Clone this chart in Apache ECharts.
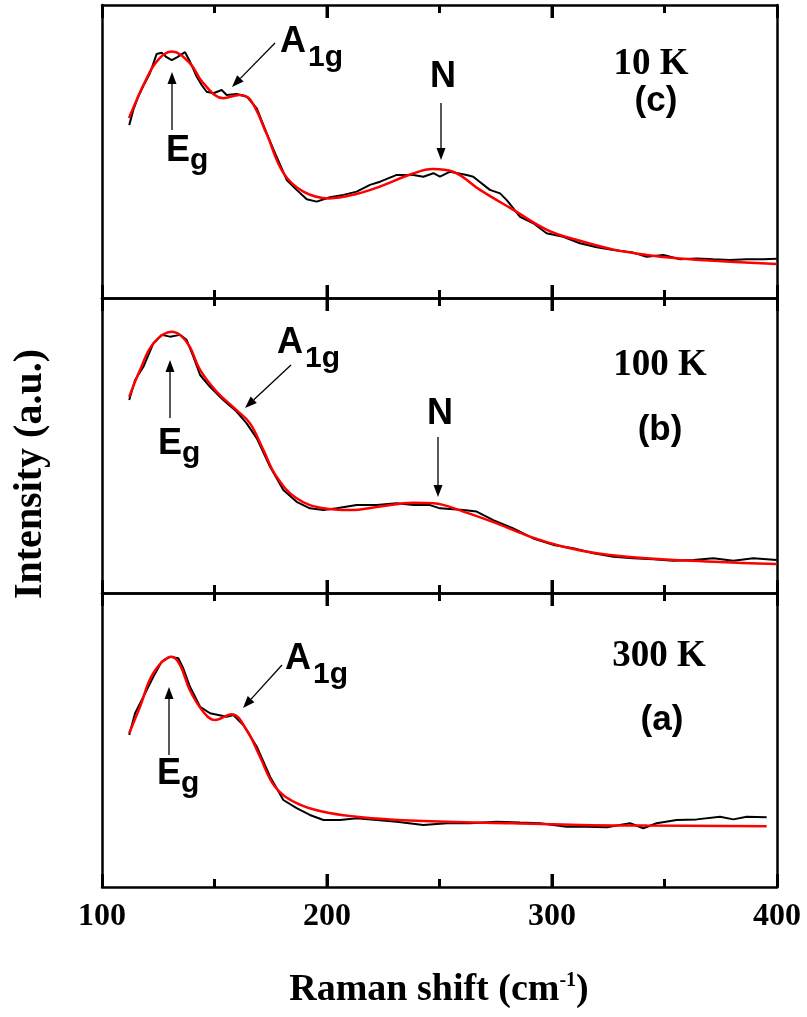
<!DOCTYPE html>
<html lang="en">
<head>
    <meta charset="UTF-8">
    <title>Raman spectra</title>
    <script src="https://cdn.jsdelivr.net/npm/echarts@6/dist/echarts.min.js"></script>
    <style>
        html, body { margin: 0; padding: 0; background: #fff; }
        #main { width: 807px; height: 1017px; background: #fff; }
    </style>
</head>
<body>
<div id="main"></div>
<script>
    // x tick labels and tick positions
    var xTicks = [100, 200, 300, 400];
    var innerTicks = [150, 200, 250, 300, 350];

    // panel (c) 10 K : [Raman shift, intensity a.u.]
    var cExp = [[112.1,59.0],[113.9,64.2],[116.1,68.7],[118.4,72.4],[121.3,76.7],[124.3,83.3],[126.5,83.7],[128.7,82.2],[131,81.2],[133.5,82.2],[136.9,83.9],[139.1,80.7],[142.1,75.5],[144.3,72.7],[146.5,70.4],[149.5,69.9],[153.2,71.0],[155.4,69.3],[159.9,69.6],[164.3,68.7],[168.8,64.7],[173.2,56.2],[177.6,48.2],[182.1,40.3],[186.5,36.9],[191,33.7],[195.4,32.9],[201.3,34.4],[207.3,35.2],[213.2,36.3],[219.1,38.6],[223.6,39.7],[231,42.0],[238.4,42.0],[242.8,41.4],[247.3,42.6],[250.2,41.4],[254.7,43.1],[262.1,42.0],[265,41.4],[272.4,36.9],[276.9,35.7],[279.9,33.4],[285.8,27.7],[291.7,25.5],[297.6,22.1],[305,20.9],[312.4,18.7],[319.9,17.3],[327.3,16.4],[336.1,15.5],[342,14.1],[349.5,14.7],[356.9,13.2],[364.3,13.5],[371.7,13.2],[379.1,13.0],[386.5,13.2],[393.9,13.2],[399.9,13.4]];
    var cFit = [[112,61.4],[115.4,67.6],[119.1,73.8],[124.3,80.7],[131,84.1],[139,80.2],[145,73.3],[154,68.2],[161,69.3],[166,67.6],[173,56.3],[180.6,42.7],[189.5,36.3],[201,34.0],[213,35.5],[224,38.2],[238,42.4],[247,44.0],[256,43.1],[268,36.9],[283,30.0],[298,23.2],[312,19.6],[327,16.6],[342,14.7],[357,13.5],[372,12.7],[400,11.6]];

    // panel (b) 100 K
    var bExp = [[112.1,65.4],[114.7,72.2],[118.4,76.7],[122.8,84.6],[126.5,87.5],[130.2,86.9],[134.7,87.5],[137.6,85.8],[140.6,80.1],[143.6,73.9],[148,69.9],[153.9,65.4],[159.8,61.5],[164.3,57.5],[168.8,52.4],[174.7,42.8],[180.6,34.9],[186.5,30.9],[192.4,28.7],[198.4,28.1],[204.3,28.7],[213.2,29.8],[222.1,29.8],[231,30.4],[238.4,29.8],[245.8,29.8],[250.2,28.7],[260.6,28.1],[266.5,27.6],[273.9,24.7],[282.8,21.9],[291.7,18.5],[300.6,16.3],[309.5,15.2],[318.4,13.5],[327.3,12.3],[336.1,11.8],[345,11.4],[353.9,10.9],[362.8,11.2],[371.7,11.8],[380.6,10.9],[389.5,11.8],[399.9,11.2]];
    var bFit = [[112.1,66.5],[116.9,75.6],[122.8,84.6],[131,88.6],[134.7,87.5],[139,83.5],[143.6,75.6],[151,68.2],[159.8,62.0],[165.8,57.5],[171.7,48.5],[177.6,39.4],[186.5,32.1],[198.4,28.7],[210.2,28.1],[223.6,29.3],[238.4,30.6],[247.3,30.4],[260.6,27.6],[275.4,23.6],[290.2,19.1],[305,15.7],[319.9,13.5],[342,11.8],[371.7,10.6],[399.8,9.8]];

    // panel (a) 300 K
    var aExp = [[112.1,51.7],[114.7,59.1],[118.4,64.7],[122.8,71.5],[126.5,76.6],[130.2,78.3],[133.9,77.8],[136.1,74.4],[139.1,68.1],[143.6,61.3],[148,59.1],[151.7,58.5],[155.4,57.9],[158.4,58.5],[162.8,55.1],[168.8,47.7],[174.7,37.5],[180.6,29.6],[186.5,26.8],[192.4,24.5],[198.4,22.8],[205.8,22.8],[213.2,23.4],[222.1,22.8],[231,22.2],[242.8,21.1],[253.2,21.7],[263.6,21.7],[275.4,22.2],[285.8,21.9],[294.7,21.7],[306.5,20.5],[315.4,20.5],[324.3,20.3],[334.7,21.7],[340.6,20.0],[346.5,21.7],[355.4,22.8],[364.3,23.0],[374.7,23.9],[380.6,23.0],[386.5,23.9],[395.4,23.7]];
    var aFit = [[112.1,52.3],[116.9,61.3],[122.8,72.7],[131,78.3],[134.7,75.5],[139,67.0],[145,59.6],[150.2,56.8],[157.6,58.8],[164.3,53.4],[170.2,44.3],[176.9,34.1],[186.5,28.5],[198.4,25.6],[213.2,23.9],[228,23.0],[253.2,22.2],[282.8,21.7],[312.4,21.1],[342,20.9],[395.4,20.7]];

    var panelExp = [cExp, bExp, aExp];
    var panelFit = [cFit, bFit, aFit];
    var panelTemp = ['10 K', '100 K', '300 K'];
    var panelTag = ['(c)', '(b)', '(a)'];

    var serif = 'Liberation Serif';
    var sans = 'Liberation Sans';
    var tops = [5, 298, 593];
    var heights = [293, 295, 294];

    var grids = [], xAxes = [], yAxes = [], series = [];
    for (let i = 0; i < 3; i++) {
        grids.push({ left: 102, width: 675, top: tops[i], height: heights[i], outerBoundsMode: 'none', containLabel: false });
        ['bottom', 'top'].forEach(function (pos) {
            xAxes.push({
                gridIndex: i, position: pos, type: 'value',
                min: 100, max: 400, interval: 100,
                axisLine: { show: true, onZero: false, lineStyle: { color: '#000', width: 2.5 } },
                axisTick: { show: true, inside: true, length: 13, lineStyle: { color: '#000', width: 3 } },
                minorTick: { show: true, splitNumber: 2, length: 8, lineStyle: { color: '#000', width: 3 } },
                splitLine: { show: false },
                axisLabel: {
                    show: (i === 2 && pos === 'bottom'),
                    margin: 14,
                    fontFamily: serif, fontWeight: 'bold', fontSize: 32, color: '#000',
                    formatter: function (v) { return xTicks.indexOf(v) >= 0 ? String(v) : ''; }
                }
            });
        });
        ['left', 'right'].forEach(function (pos) {
            yAxes.push({
                gridIndex: i, position: pos, type: 'value', min: 0, max: 100,
                axisLine: { show: true, onZero: false, lineStyle: { color: '#000', width: 2.5 } },
                axisTick: { show: false },
                axisLabel: { show: false }, splitLine: { show: false }
            });
        });
        series.push({
            type: 'line', xAxisIndex: i * 2, yAxisIndex: i * 2,
            data: panelExp[i], showSymbol: false, symbol: 'none',
            lineStyle: { color: '#000', width: 2 }, z: 2
        });
        series.push({
            type: 'line', xAxisIndex: i * 2, yAxisIndex: i * 2,
            data: panelFit[i], showSymbol: false, symbol: 'none', smooth: 0.4,
            lineStyle: { color: '#ff0000', width: 2.5 }, z: 3
        });
    }

    function txt(x, y, s, size, family, align) {
        return {
            type: 'text', x: x, y: y, z: 10,
            style: {
                text: s, fontSize: size, fontFamily: family, fontWeight: 'bold',
                fill: '#000', align: align || 'center', verticalAlign: 'middle'
            }
        };
    }
    function arrow(x1, y1, x2, y2) {
        var ang = Math.atan2(y2 - y1, x2 - x1);
        var L = 12, W = 4.5;
        var bx = x2 - L * Math.cos(ang), by = y2 - L * Math.sin(ang);
        return [
            { type: 'line', z: 10, shape: { x1: x1, y1: y1, x2: bx, y2: by }, style: { stroke: '#000', lineWidth: 1.3 } },
            { type: 'polygon', z: 10, shape: { points: [[x2, y2], [bx + W * Math.sin(ang), by - W * Math.cos(ang)], [bx - W * Math.sin(ang), by + W * Math.cos(ang)]] }, style: { fill: '#000' } }
        ];
    }

    var graphics = [];
    // panel labels
    var tempPos = [[651, 64], [660, 365], [659, 656]];
    var tagPos = [[656, 101], [660, 430], [662, 720]];
    for (let i = 0; i < 3; i++) {
        graphics.push(txt(tempPos[i][0], tempPos[i][1], panelTemp[i], 37, serif));
        graphics.push(txt(tagPos[i][0], tagPos[i][1], panelTag[i], 35, sans));
    }
    // A1g, Eg, N annotations
    var aPos = [[293, 42], [290, 343], [298, 659]];
    var aArrow = [[275, 43, 232, 87], [291, 365, 245, 408], [282, 665, 243, 708]];
    var ePos = [[178, 151], [170, 444], [169, 774]];
    var eArrow = [[172, 130, 172, 72], [170, 418, 170, 360], [169, 755, 169, 687]];
    for (let i = 0; i < 3; i++) {
        graphics.push(txt(aPos[i][0], aPos[i][1], 'A', 36, sans));
        graphics.push(txt(aPos[i][0] + 15, aPos[i][1] + 16, '1g', 30, sans, 'left'));
        graphics = graphics.concat(arrow.apply(null, aArrow[i]));
        graphics.push(txt(ePos[i][0], ePos[i][1], 'E', 36, sans));
        graphics.push(txt(ePos[i][0] + 12, ePos[i][1] + 10, 'g', 30, sans, 'left'));
        graphics = graphics.concat(arrow.apply(null, eArrow[i]));
    }
    graphics.push(txt(443, 77, 'N', 36, sans));
    graphics = graphics.concat(arrow(441, 103, 441, 160));
    graphics.push(txt(440, 414, 'N', 36, sans));
    graphics = graphics.concat(arrow(438, 437, 438, 497));

    // axis titles
    graphics.push({
        type: 'text', x: 31, y: 474, rotation: Math.PI / 2, z: 10,
        style: {
            text: 'Intensity (a.u.)', fontSize: 40, fontFamily: serif, fontWeight: 'bold',
            fill: '#000', align: 'center', verticalAlign: 'middle'
        }
    });
    graphics.push({
        type: 'text', x: 439, y: 990, z: 10,
        style: {
            text: '{t|Raman shift (cm}{s|-1}{t|)}', fill: '#000', align: 'center', verticalAlign: 'middle',
            rich: {
                t: { fontSize: 38, fontFamily: serif, fontWeight: 'bold', fill: '#000' },
                s: { fontSize: 20, fontFamily: serif, fontWeight: 'bold', fill: '#000', padding: [0, 0, 18, 0] }
            }
        }
    });

    var chart = echarts.init(document.getElementById('main'));
    chart.setOption({
        animation: false,
        grid: grids,
        xAxis: xAxes,
        yAxis: yAxes,
        series: series,
        graphic: graphics
    });

    // inward ticks on the top and bottom edge of each panel, placed through the axis scales
    var tickEls = [];
    for (let i = 0; i < 3; i++) {
        var yTop = chart.convertToPixel({ yAxisIndex: i * 2 }, 100);
        var yBot = chart.convertToPixel({ yAxisIndex: i * 2 }, 0);
        innerTicks.forEach(function (v) {
            var x = chart.convertToPixel({ xAxisIndex: i * 2 }, v);
            var len = (v % 100 === 0) ? 13 : 8;
            tickEls.push({ type: 'line', z: 5, shape: { x1: x, y1: yTop, x2: x, y2: yTop + len }, style: { stroke: '#000', lineWidth: 3 } });
            tickEls.push({ type: 'line', z: 5, shape: { x1: x, y1: yBot, x2: x, y2: yBot - len }, style: { stroke: '#000', lineWidth: 3 } });
        });
    }
    chart.setOption({ graphic: graphics.concat(tickEls) });
</script>
</body>
</html>
